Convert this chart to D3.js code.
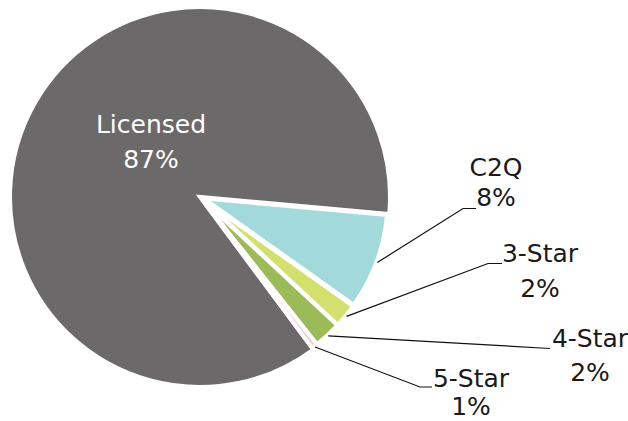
<!DOCTYPE html>
<html>
<head>
<meta charset="utf-8">
<script src="https://cdn.jsdelivr.net/npm/d3@7"></script>
<style>
  html, body { margin: 0; padding: 0; background: #fff; }
  svg { display: block; }
  text { font-family: "DejaVu Sans", sans-serif; }
</style>
</head>
<body>
<svg id="chart" width="628" height="421"></svg>
<script>
// ---- data ----
const categories = ["Licensed", "C2Q", "3-Star", "4-Star", "5-Star"];
const values = [86.6, 8.4, 2.1, 2.4, 0.5];
const colors = ["#6b696a", "#a2d9da", "#d3e06e", "#9bbb59", "#f2c4cf"];

// ---- layout (not data) ----
const W = 628, H = 421;
const cx = 200, cy = 197;
const startDeg = 143.4;           // angle of first slice, clockwise from 12 o'clock
const mainR = 190, smallR = 184, explode = 4;
// label layout: x centre, baseline of name line, baseline of percent line, leader path elbow/end
const labelLayout = [
  { x: 151, y1: 133, y2: 168, color: "#ffffff", leader: null },
  { x: 496, y1: 176, y2: 206, color: "#1a1a1a", leader: [[463, 208.5], [476, 208.5]] },
  { x: 540, y1: 262, y2: 297, color: "#1a1a1a", leader: [[488, 263.5], [502, 263.5]] },
  { x: 590, y1: 347, y2: 381, color: "#1a1a1a", leader: [[550, 348.5]] },
  { x: 471, y1: 387, y2: 415, color: "#1a1a1a", leader: [[420, 387], [432, 387]] }
];

const svg = d3.select("#chart");
const g = svg.append("g").attr("transform", `translate(${cx},${cy})`);

const data = categories.map((c, i) => ({ name: c, value: values[i], color: colors[i], i }));
const toRad = d => d * Math.PI / 180;
const pie = d3.pie().sort(null).value(d => d.value)
  .startAngle(toRad(startDeg)).endAngle(toRad(startDeg + 360));
const arcs = pie(data);

function offsetOf(a) {
  if (a.data.i === 0) return [0, 0];
  const m = (a.startAngle + a.endAngle) / 2;
  return [explode * Math.sin(m), -explode * Math.cos(m)];
}
function radiusOf(a) { return a.data.i === 0 ? mainR : smallR; }

g.selectAll("path.slice").data(arcs).join("path")
  .attr("class", "slice")
  .attr("transform", a => { const o = offsetOf(a); return `translate(${o[0]},${o[1]})`; })
  .attr("d", a => d3.arc().innerRadius(0).outerRadius(radiusOf(a))(a))
  .attr("fill", a => a.data.color)
  .attr("stroke", "#ffffff")
  .attr("stroke-width", 4)
  .attr("stroke-linejoin", "miter");

// leader lines
arcs.forEach((a, i) => {
  const L = labelLayout[i];
  if (!L.leader) return;
  const m = (a.startAngle + a.endAngle) / 2;
  const o = offsetOf(a);
  const r = radiusOf(a) + 1;
  const p0 = [cx + o[0] + r * Math.sin(m), cy + o[1] - r * Math.cos(m)];
  const pts = [p0].concat(L.leader);
  svg.append("path")
    .attr("d", d3.line()(pts))
    .attr("fill", "none")
    .attr("stroke", "#111")
    .attr("stroke-width", 1.2);
});

// labels
arcs.forEach((a, i) => {
  const L = labelLayout[i];
  const t = svg.append("text")
    .attr("text-anchor", "middle")
    .attr("fill", L.color)
    .style("font-size", "25px");
  t.append("tspan").attr("x", L.x).attr("y", L.y1).text(a.data.name);
  t.append("tspan").attr("x", L.x).attr("y", L.y2).text(Math.round(a.data.value) + "%");
});
</script>
</body>
</html>
